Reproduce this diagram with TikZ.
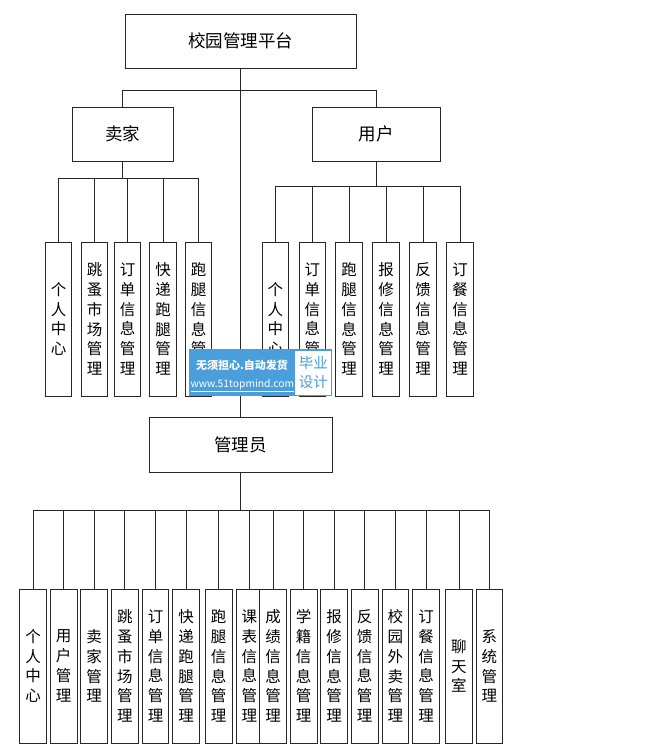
\documentclass[tikz,border=0pt]{standalone}
\usepackage{fontspec}
\setmainfont{Noto Sans CJK SC}
\begin{document}
\begin{tikzpicture}[x=1pt,y=-1pt,
  box/.style={draw=black!85,line width=0.8pt,rectangle,inner sep=0pt,fill=white},
  head/.style={box,font=\fontsize{17.5}{19}\selectfont},
  leaf/.style={box,minimum width=26.7pt,minimum height=154pt,align=center,font=\fontsize{15.5}{19.8}\selectfont},
  conn/.style={draw=black!85,line width=0.8pt}]
\useasboundingbox (0,0) rectangle (667,746);
\fill[white] (0,0) rectangle (667,746);
% heads
\node[head,minimum width=231pt,minimum height=54pt] (top) at (240.7,41) {校园管理平台};
\node[head,minimum width=101.3pt,minimum height=54pt] (seller) at (122.7,134) {卖家};
\node[head,minimum width=128.7pt,minimum height=54pt] (user) at (376.3,134) {用户};
\node[head,minimum width=182.6pt,minimum height=54.6pt] (admin) at (240.7,445) {管理员};
% seller leaves
\node[leaf] (s1) at (58.5,319) {个\\人\\中\\心};
\node[leaf] (s2) at (94.5,319) {跳\\蚤\\市\\场\\管\\理};
\node[leaf] (s3) at (127.5,319) {订\\单\\信\\息\\管\\理};
\node[leaf] (s4) at (163,319) {快\\递\\跑\\腿\\管\\理};
\node[leaf] (s5) at (198.5,319) {跑\\腿\\信\\息\\管\\理};
% user leaves
\node[leaf] (u1) at (275.3,319) {个\\人\\中\\心};
\node[leaf] (u2) at (312.3,319) {订\\单\\信\\息\\管\\理};
\node[leaf] (u3) at (349.2,319) {跑\\腿\\信\\息\\管\\理};
\node[leaf] (u4) at (386.2,319) {报\\修\\信\\息\\管\\理};
\node[leaf] (u5) at (423.2,319) {反\\馈\\信\\息\\管\\理};
\node[leaf] (u6) at (460.2,319) {订\\餐\\信\\息\\管\\理};
% admin leaves
\node[leaf] (a1) at (33.2,666) {个\\人\\中\\心};
\node[leaf] (a2) at (63.7,666) {用\\户\\管\\理};
\node[leaf] (a3) at (94.2,666) {卖\\家\\管\\理};
\node[leaf] (a4) at (124.8,666) {跳\\蚤\\市\\场\\管\\理};
\node[leaf] (a5) at (155.5,666) {订\\单\\信\\息\\管\\理};
\node[leaf] (a6) at (186,666) {快\\递\\跑\\腿\\管\\理};
\node[leaf] (a7) at (218.7,666) {跑\\腿\\信\\息\\管\\理};
\node[leaf] (a8) at (249.3,666) {课\\表\\信\\息\\管\\理};
\node[leaf] (a9) at (273,666) {成\\绩\\信\\息\\管\\理};
\node[leaf] (a10) at (303.7,666) {学\\籍\\信\\息\\管\\理};
\node[leaf] (a11) at (334,666) {报\\修\\信\\息\\管\\理};
\node[leaf] (a12) at (364.7,666) {反\\馈\\信\\息\\管\\理};
\node[leaf] (a13) at (395.3,666) {校\\园\\外\\卖\\管\\理};
\node[leaf] (a14) at (426.2,666) {订\\餐\\信\\息\\管\\理};
\node[leaf] (a15) at (458.9,666) {聊\\天\\室};
\node[leaf] (a16) at (489.3,666) {系\\统\\管\\理};
% connectors
\draw[conn] (top.south) -- (admin.north);
\foreach \c in {seller,user} \draw[conn] (top.south) -- ++(0,22) -| (\c.north);
\foreach \c in {s1,s2,s3,s4,s5} \draw[conn] (seller.south) -- ++(0,17.3) -| (\c.north);
\foreach \c in {u1,u2,u3,u4,u5,u6} \draw[conn] (user.south) -- ++(0,24.7) -| (\c.north);
\foreach \c in {a1,a2,a3,a4,a5,a6,a7,a8,a9,a10,a11,a12,a13,a14,a15,a16} \draw[conn] (admin.south) -- ++(0,37.7) -| (\c.north);
% watermark
\fill[fill={rgb,255:red,74;green,158;blue,219}] (189,349) rectangle (332.3,395.7);
\fill[white] (295.3,350.5) rectangle (331.2,394.7);
\node[text=white,font=\fontsize{11}{13}\selectfont\bfseries,inner sep=0pt] (wm1) at (242,365) {无须担心.自动发货};
\node[text=white,font=\fontsize{10.3}{12}\selectfont,inner sep=0pt] (wm2) at (242.3,385.5) {\underline{www.51topmind.com}};
\node[text={rgb,255:red,74;green,158;blue,219},font=\fontsize{14.5}{19.5}\selectfont,align=center,inner sep=0pt] (wm3) at (313.3,372.5) {毕业\\设计};
\end{tikzpicture}
\end{document}
